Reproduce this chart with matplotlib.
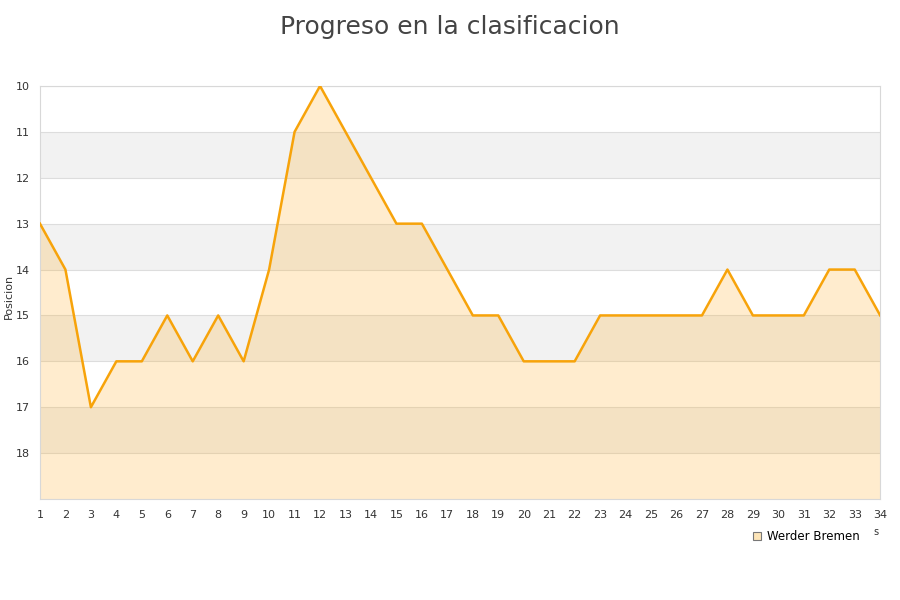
import matplotlib
matplotlib.use('Agg')
import matplotlib.pyplot as plt
from matplotlib.lines import Line2D

rounds = list(range(1, 35))
positions = [13, 14, 17, 16, 16, 15, 16, 15, 16, 14, 11, 10, 11, 12, 13, 13, 14, 15, 15, 16,
             16, 16, 15, 15, 15, 15, 15, 14, 15, 15, 15, 14, 14, 15]
team = 'Werder Bremen'
y_ticks = list(range(10, 19))

line_color = '#f7a30a'

fig = plt.figure(figsize=(9, 6), dpi=100)
ax = fig.add_axes([0.0444, 0.1683, 0.9336, 0.6884])

# alternating bands
for k in range(10, 19):
    if k % 2 == 1:
        ax.axhspan(k, k + 1, color='#f2f2f2', lw=0, zorder=0)
    ax.axhline(k, color='#dddddd', lw=0.8, zorder=1)

ax.fill_between(rounds, positions, 19, color='#ffab20', alpha=0.22, lw=0, zorder=2)
ax.plot(rounds, positions, color=line_color, lw=1.8, zorder=3)

ax.set_xlim(1, 34)
ax.set_ylim(19, 10)
ax.set_xticks(rounds)
ax.set_yticks(y_ticks)
ax.tick_params(length=0, labelsize=8, colors='#333333', pad=8)
ax.tick_params(axis='y', pad=7)
for s in ax.spines.values():
    s.set_color('#d8d8d8')
ax.set_ylabel('Posicion', fontsize=8, color='#333333')
ax.yaxis.set_label_coords(-0.031, 0.49)

fig.text(0.5, 0.975, 'Progreso en la clasificacion', ha='center', va='top',
         fontsize=18, color='#444444')

# clipped x-axis label remnant seen in the original
fig.text(0.973, 0.113, 's', ha='center', va='center', fontsize=7, color='#333333')

handle = Line2D([], [], marker='s', linestyle='none', markersize=6,
                markerfacecolor='#fde5b8', markeredgecolor='#777777', markeredgewidth=0.8)
fig.legend([handle], [team], loc='center', bbox_to_anchor=(0.895, 0.105),
           frameon=False, fontsize=8.5, handletextpad=0.4, handlelength=1)

fig.savefig('out.png', dpi=100)
